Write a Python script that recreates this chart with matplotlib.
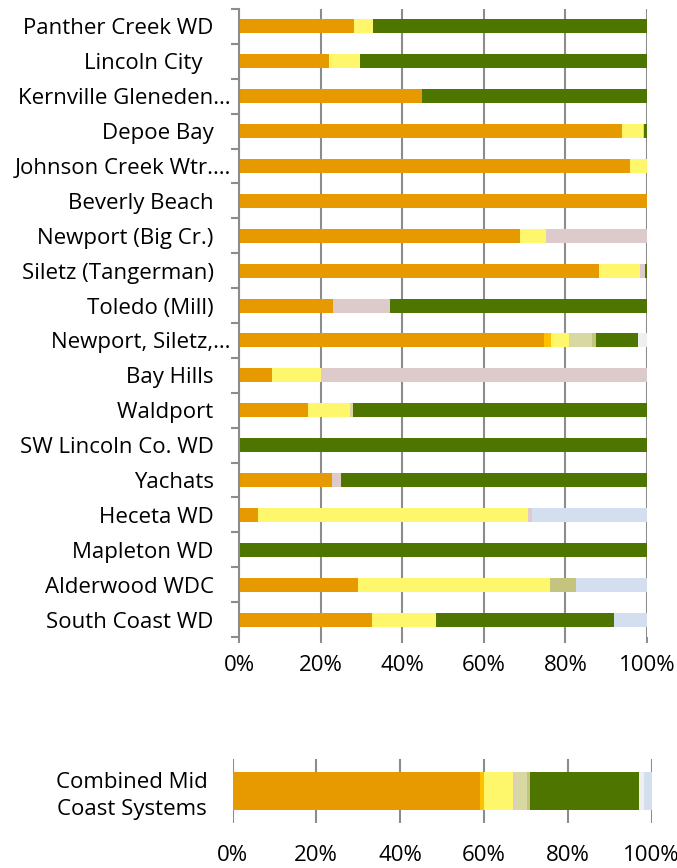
import numpy as np
import matplotlib
matplotlib.use('Agg')
import matplotlib.pyplot as plt
from matplotlib.ticker import FuncFormatter, FixedLocator

plt.rcParams['font.family'] = ['Open Sans', 'DejaVu Sans']

# categories, top to bottom
systems = ['Panther Creek WD   ', 'Lincoln City     ', 'Kernville Gleneden\u2026',
           'Depoe Bay   ', 'Johnson Creek Wtr.\u2026', 'Beverly Beach   ',
           'Newport (Big Cr.)   ', 'Siletz (Tangerman)   ', 'Toledo (Mill)   ',
           'Newport, Siletz,\u2026', 'Bay Hills   ', 'Waldport   ',
           'SW Lincoln Co. WD   ', 'Yachats   ', 'Heceta WD   ', 'Mapleton WD   ',
           'Alderwood WDC   ', 'South Coast WD   ']

# share of supply per segment (%), one list per segment colour
s_orange  = [28.3, 22.1, 44.9, 93.9, 95.8, 100, 68.9, 88.3, 23.1, 74.8, 8.2, 16.8, 0, 22.8, 4.7, 0, 29.2, 32.5]
s_gold    = [0, 0, 0, 0, 0, 0, 0, 0, 0, 1.7, 0, 0, 0, 0, 0, 0, 0, 0]
s_yellow  = [4.5, 7.6, 0, 5.1, 4.2, 0, 6.3, 10.0, 0, 4.5, 11.9, 10.4, 0, 0, 66.1, 0, 47.0, 15.9]
s_pink    = [0, 0, 0, 0.3, 0, 0, 24.8, 1.2, 14.0, 0, 79.9, 0, 0, 2.1, 1.0, 0, 0, 0]
s_khaki   = [0, 0, 0, 0, 0, 0, 0, 0, 0, 5.4, 0, 0.8, 0.3, 0, 0, 0, 0, 0]
s_olive   = [0, 0, 0, 0, 0, 0, 0, 0, 0, 1.1, 0, 0, 0, 0, 0, 0, 6.3, 0]
s_green   = [67.2, 70.3, 55.1, 0.7, 0, 0, 0, 0.5, 62.9, 10.3, 0, 72.0, 99.7, 75.1, 0, 100, 0, 43.5]
s_grey    = [0, 0, 0, 0, 0, 0, 0, 0, 0, 2.2, 0, 0, 0, 0, 0, 0, 0, 0]
s_blue    = [0, 0, 0, 0, 0, 0, 0, 0, 0, 0, 0, 0, 0, 0, 28.2, 0, 17.5, 8.1]

combined_label = 'Combined Mid\nCoast Systems'
combined = [59.1, 0.9, 6.9, 0.5, 3.0, 0.7, 25.8, 1.2, 1.9]

xticks = [0, 20, 40, 60, 80, 100]

colors = ['#E69A00', '#FFC000', '#FFF76B', '#DDCBCB', '#D8D8A2',
          '#C4C47E', '#4D7500', '#EFEFEF', '#D3DFEE']
series = [s_orange, s_gold, s_yellow, s_pink, s_khaki, s_olive, s_green, s_grey, s_blue]

gridc = '#8C8C8C'
fs = 16
pct = FuncFormatter(lambda v, p: '%d%%' % v)

fig = plt.figure(figsize=(6.77, 8.68), dpi=100)

# main chart
ax = fig.add_axes([239/677, 1-637/868, 408/677, 628/868])
y = np.arange(len(systems))
left = np.zeros(len(systems))
for vals, c in zip(series, colors):
    vals = np.array(vals, dtype=float)
    ax.barh(y, vals, left=left, height=0.4, color=c, linewidth=0, zorder=2)
    left += vals
ax.set_xlim(0, 100)
ax.set_ylim(len(systems)-0.5, -0.5)
ax.xaxis.set_major_locator(FixedLocator(xticks))
ax.xaxis.set_major_formatter(pct)
ax.grid(axis='x', color=gridc, linewidth=1.5, zorder=0)
ax.set_axisbelow(True)
for s in ['top', 'right', 'bottom']:
    ax.spines[s].set_visible(False)
ax.spines['left'].set_color(gridc)
ax.spines['left'].set_linewidth(1.5)
ax.tick_params(axis='x', length=4.3, width=1.5, color=gridc, pad=9, labelsize=fs)
ax.set_yticks(y)
ax.set_yticklabels(systems)
ax.set_yticks(np.arange(len(systems)+1)-0.5, minor=True)
ax.tick_params(axis='y', which='major', length=0, pad=5.8, labelsize=fs)
ax.tick_params(axis='y', which='minor', length=5.8, width=1.5, color=gridc)

# combined chart
ax2 = fig.add_axes([232.5/677, 1-823/868, 419/677, 64/868])
left = 0.0
for v, c in zip(combined, colors):
    ax2.barh([0], [v], left=left, height=0.58, color=c, linewidth=0, zorder=2)
    left += v
ax2.set_xlim(0, 100)
ax2.set_ylim(-0.5, 0.5)
ax2.xaxis.set_major_locator(FixedLocator(xticks))
ax2.xaxis.set_major_formatter(pct)
ax2.grid(axis='x', color=gridc, linewidth=1.5, zorder=0)
ax2.set_axisbelow(True)
for s in ax2.spines.values():
    s.set_visible(False)
ax2.tick_params(axis='x', length=0, pad=16, labelsize=fs)
ax2.set_yticks([0])
ax2.set_yticklabels([combined_label], multialignment='center', linespacing=1.35)
ax2.tick_params(axis='y', length=0, pad=18, labelsize=fs)

plt.savefig('out.png', dpi=100)
